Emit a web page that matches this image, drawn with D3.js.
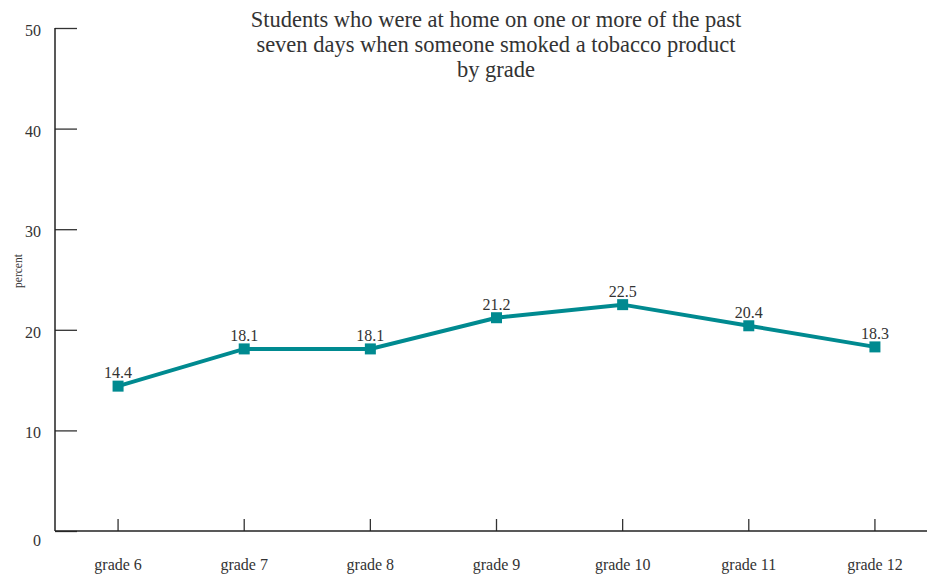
<!DOCTYPE html>
<html><head><meta charset="utf-8">
<script src="https://cdn.jsdelivr.net/npm/d3@7"></script>
<style>
body{margin:0;background:#fff;}
</style></head>
<body><svg id="c" width="927" height="576"></svg>
<script>
const categories = ["grade 6","grade 7","grade 8","grade 9","grade 10","grade 11","grade 12"];
const values = [14.4, 18.1, 18.1, 21.2, 22.5, 20.4, 18.3];
const yTicks = [0,10,20,30,40,50];
const titleLines = ["Students who were at home on one or more of the past","seven days when someone smoked a tobacco product","by grade"];

const FONT = "'Liberation Serif', 'Times New Roman', serif";
const svg = d3.select("#c");
const color = "#008a90";
const x = d3.scaleBand().domain(categories).range([55, 938]);
const y = d3.scaleLinear().domain([0,50]).range([531, 28]);

function txt(sel){ return sel.attr("font-family",FONT).attr("fill","#333"); }

// y axis
const ya = svg.append("g").attr("transform","translate(55,0)")
  .call(d3.axisRight(y).tickValues(yTicks).tickSize(22).tickFormat(""));
ya.select(".domain").remove();
ya.selectAll("line").attr("stroke","#333").attr("stroke-width",1.3);
svg.append("line").attr("x1",55).attr("x2",55).attr("y1",y(50)).attr("y2",y(0)).attr("stroke","#222").attr("stroke-width",1.5);
txt(svg.selectAll(".ylab").data(yTicks).enter().append("text")
  .attr("x",41).attr("y",d=>y(d)+(d===0?15:8)).attr("text-anchor","end")
  .attr("font-size",16).text(d=>d));

// x axis
const xa = svg.append("g").attr("transform","translate(0,531)")
  .call(d3.axisTop(x).tickSize(12).tickFormat(""));
xa.select(".domain").remove();
xa.selectAll("line").attr("stroke","#333").attr("stroke-width",1.3);
svg.append("line").attr("x1",55).attr("x2",927).attr("y1",531).attr("y2",531).attr("stroke","#222").attr("stroke-width",1.5);
txt(svg.selectAll(".xlab").data(categories).enter().append("text")
  .attr("x",d=>x(d)+x.bandwidth()/2).attr("y",570).attr("text-anchor","middle")
  .attr("font-size",16).text(d=>d));

// y label
txt(svg.append("text").attr("transform","translate(22,271) rotate(-90)")
  .attr("text-anchor","middle").attr("font-size",11.5).text("percent"));

// title
txt(svg.selectAll(".title").data(titleLines).enter().append("text")
  .attr("x",496).attr("y",(d,i)=>27+i*25).attr("text-anchor","middle")
  .attr("font-size",22.5).text(d=>d));

// line
const data = categories.map((c,i)=>({c, v:values[i]}));
const cx = d=>x(d.c)+x.bandwidth()/2;
svg.append("path").datum(data)
  .attr("d", d3.line().x(cx).y(d=>y(d.v)))
  .attr("fill","none").attr("stroke",color).attr("stroke-width",4);
svg.selectAll(".pt").data(data).enter().append("rect")
  .attr("x",d=>cx(d)-5.5).attr("y",d=>y(d.v)-5.5).attr("width",11).attr("height",11).attr("fill",color);
txt(svg.selectAll(".vl").data(data).enter().append("text")
  .attr("x",cx).attr("y",d=>y(d.v)-8).attr("text-anchor","middle")
  .attr("font-size",16).text(d=>d.v.toFixed(1)));
</script></body></html>
